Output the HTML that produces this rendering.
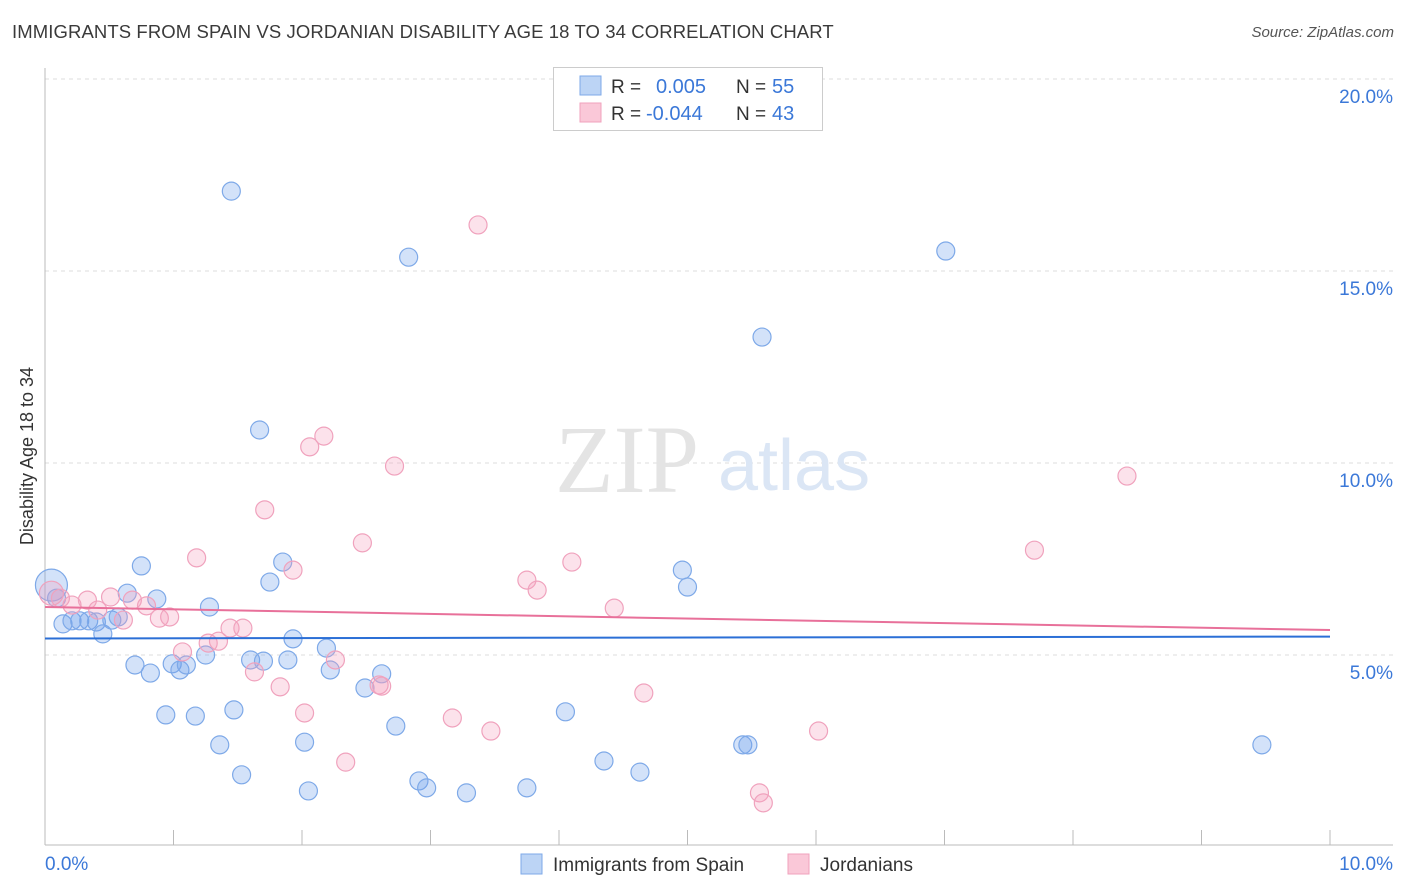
<!DOCTYPE html>
<html><head><meta charset="utf-8"><style>
body{margin:0;background:#fff;font-family:"Liberation Sans",sans-serif;}
#wrap{position:relative;width:1406px;height:892px;overflow:hidden;}
.title{position:absolute;left:12px;top:21px;font-size:18.5px;color:#3a3a3a;letter-spacing:0.1px;}
.src{position:absolute;right:12px;top:24px;font-size:15px;color:#555;font-style:italic;}
</style></head><body><div id="wrap">
<div class="title">IMMIGRANTS FROM SPAIN VS JORDANIAN DISABILITY AGE 18 TO 34 CORRELATION CHART</div>
<div class="src">Source: ZipAtlas.com</div>
<svg id="svg" width="1406" height="892" style="position:absolute;left:0;top:0"></svg>
</div>
<script>
const blueX=[0.05,0.09,0.14,0.21,0.27,0.34,0.40,0.45,0.52,0.57,0.64,0.75,0.70,0.82,0.87,0.94,0.99,1.05,1.10,1.17,1.25,1.28,1.36,1.45,1.47,1.53,1.60,1.67,1.70,1.75,1.85,1.89,1.93,2.02,2.05,2.19,2.22,2.49,2.62,2.73,2.83,2.91,2.97,3.28,3.75,4.05,4.35,4.63,4.96,5.00,5.43,5.47,5.58,7.01,9.47];
const blueY=[6.82,6.48,5.81,5.89,5.89,5.89,5.86,5.55,5.91,5.99,6.61,7.32,4.74,4.53,6.46,3.44,4.77,4.61,4.74,3.41,5.00,6.25,2.66,17.08,3.57,1.88,4.87,10.86,4.84,6.90,7.42,4.87,5.42,2.73,1.46,5.18,4.61,4.14,4.51,3.15,15.36,1.72,1.54,1.41,1.54,3.52,2.24,1.95,7.21,6.77,2.66,2.66,13.28,15.52,2.66];
const pinkX=[0.05,0.12,0.21,0.33,0.41,0.51,0.61,0.68,0.79,0.89,0.97,1.07,1.18,1.27,1.35,1.44,1.54,1.63,1.71,1.83,1.93,2.02,2.06,2.17,2.26,2.34,2.47,2.60,2.62,2.72,3.17,3.37,3.47,3.75,3.83,4.10,4.43,4.66,5.56,5.59,6.02,7.70,8.42];
const pinkY=[6.61,6.48,6.30,6.43,6.17,6.51,5.91,6.43,6.28,5.96,5.99,5.08,7.53,5.31,5.36,5.70,5.70,4.56,8.78,4.17,7.21,3.49,10.42,10.70,4.87,2.21,7.92,4.22,4.19,9.92,3.36,16.20,3.02,6.95,6.69,7.42,6.22,4.01,1.41,1.15,3.02,7.73,9.66];
const blueTrend=[5.43,5.48];
const pinkTrend=[6.25,5.65];
const yTicks=[5,10,15,20];
const yTickLabels=["5.0%","10.0%","15.0%","20.0%"];
const xTicks=[0,1,2,3,4,5,6,7,8,9,10];

const X=v=>45+v*128.5, Y=v=>847-v*38.4;
const svg=document.getElementById('svg');const NS='http://www.w3.org/2000/svg';
function mk(t,a,p){const e=document.createElementNS(NS,t);for(const k in a)e.setAttribute(k,a[k]);(p||svg).appendChild(e);return e;}
yTicks.forEach((t,i)=>{
 const g=mk('line',{x1:45,x2:1393,y1:Y(t),y2:Y(t),stroke:'#ddd','stroke-dasharray':'4,4'});
 
 
 const tx=mk('text',{x:1393,y:Y(t)+24,'text-anchor':'end','font-size':19,fill:'#3b78d8'});tx.textContent=yTickLabels[i];
 
 
});
mk('line',{x1:45,x2:45,y1:68,y2:845,stroke:'#bbb'});
mk('line',{x1:45,x2:1393,y1:845,y2:845,stroke:'#bbb'});
xTicks.forEach(t=>{const l=mk('line',{x1:X(t),x2:X(t),y1:830,y2:845,stroke:'#bbb'});
 
 });
let t0=mk('text',{x:45,y:870,'font-size':19,fill:'#3b78d8'});t0.textContent='0.0%';


let t1=mk('text',{x:1393,y:870,'font-size':19,fill:'#3b78d8','text-anchor':'end'});t1.textContent='10.0%';


let w=mk('text',{x:555,y:492,'font-size':96,fill:'#e4e4e4','font-family':'Liberation Serif'});w.textContent='ZIP';


let w2=mk('text',{x:718,y:490,'font-size':72,fill:'#dbe6f5'});w2.textContent='atlas';


let yt=mk('text',{x:33,y:456,'font-size':18,fill:'#333','text-anchor':'middle',transform:'rotate(-90 33 456)'});yt.textContent='Disability Age 18 to 34';


blueX.forEach((x,i)=>{const c=mk('circle',{cx:X(x),cy:Y(blueY[i]),r:i==0?16:9,fill:'rgba(110,160,235,0.3)',stroke:'#7ea9e8','stroke-width':1.2});
 
 });
pinkX.forEach((x,i)=>{const c=mk('circle',{cx:X(x),cy:Y(pinkY[i]),r:i==0?12:9,fill:'rgba(245,160,190,0.3)',stroke:'#f0a2bd','stroke-width':1.2});
 
 });
let bl=mk('line',{x1:X(0),x2:X(10),y1:Y(blueTrend[0]),y2:Y(blueTrend[1]),stroke:'#2b6fd6','stroke-width':2});


let pl=mk('line',{x1:X(0),x2:X(10),y1:Y(pinkTrend[0]),y2:Y(pinkTrend[1]),stroke:'#e8709a','stroke-width':2});


</script>
<svg width="1406" height="892" style="position:absolute;left:0;top:0;font-family:'Liberation Sans',sans-serif">
<g>
<rect x="553.5" y="67.5" width="269" height="63" fill="#fff" stroke="#ccc"/>
<rect x="580" y="76" width="21" height="19" fill="#bcd4f5" stroke="#7ea9e8"/>
<rect x="580" y="103" width="21" height="19" fill="#fac8d8" stroke="#f0a2bd"/>
<text x="611" y="93" font-size="19" fill="#333">R = </text><text x="656" y="93" font-size="20" fill="#3b78d8">0.005</text>
<text x="736" y="93" font-size="19" fill="#333">N = </text><text x="772" y="93" font-size="20" fill="#3b78d8">55</text>
<text x="611" y="120" font-size="19" fill="#333">R = </text><text x="646" y="120" font-size="20" fill="#3b78d8">-0.044</text>
<text x="736" y="120" font-size="19" fill="#333">N = </text><text x="772" y="120" font-size="20" fill="#3b78d8">43</text>
</g>
<g>
<rect x="521" y="854" width="21" height="20" fill="#bcd4f5" stroke="#7ea9e8"/>
<text x="553" y="871" font-size="19" fill="#333">Immigrants from Spain</text>
<rect x="788" y="854" width="21" height="20" fill="#fac8d8" stroke="#f0a2bd"/>
<text x="820" y="871" font-size="19" fill="#333">Jordanians</text>
</g>
</svg>
</body></html>
